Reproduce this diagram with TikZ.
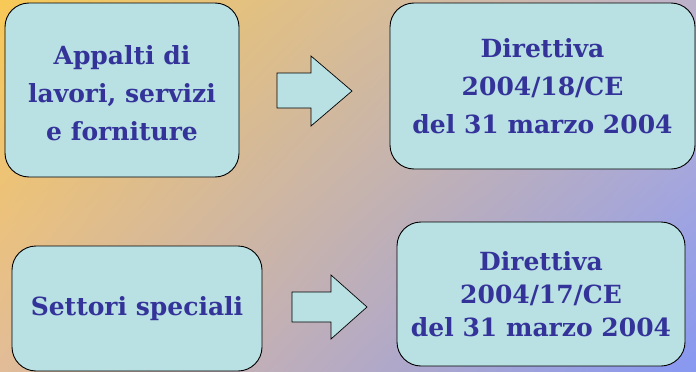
\documentclass[tikz,border=0pt]{standalone}
\usepackage{fontspec}
\setmainfont{DejaVu Serif}
\usepackage{color}
\usetikzlibrary{shadings}
\definecolor{boxfill}{HTML}{B9E0E3}
\definecolor{textblue}{HTML}{333399}
\definecolor{bgul}{HTML}{F8C956}
\definecolor{bgur}{HTML}{BDB2CC}
\definecolor{bgll}{HTML}{E2BC98}
\definecolor{bglr}{HTML}{8798F2}

\begin{document}
\begin{tikzpicture}[x=1pt,y=-1pt,
	box/.style={draw=black,line width=0.9pt,fill=boxfill,rounded corners=24pt,inner sep=0pt,
		text=textblue,align=center,font=\fontsize{25}{38}\selectfont\bfseries},
	boxtight/.style={box,font=\fontsize{25}{33}\selectfont\bfseries},
	blockarrow/.style={draw=black,line width=0.7pt,fill=boxfill,line join=miter}]
	\useasboundingbox (0,0) rectangle (696,372);
	\shade[upper left=bgul,upper right=bgur,lower left=bgll,lower right=bglr]
		(0,0) rectangle (696,372);
	\node[box,minimum width=234pt,minimum height=174pt] (appalti) at (122,90)
		{\raisebox{-5pt}[\height][\depth]{\begin{tabular}{@{}c@{}}Appalti di\\lavori, servizi\\e forniture\end{tabular}}};
	\node[box,minimum width=305pt,minimum height=166pt] (dir18) at (542.5,86)
		{Direttiva\\2004/18/CE\\del 31 marzo 2004};
	\node[box,minimum width=250pt,minimum height=125pt] (settori) at (137,308.5)
		{Settori speciali};
	\node[boxtight,minimum width=288pt,minimum height=144pt] (dir17) at (541,294)
		{Direttiva\\2004/17/CE\\del 31 marzo 2004};
	\draw[blockarrow] (277,73) -- (311,73) -- (311,56) -- (352,91)
		-- (311,126) -- (311,108) -- (277,108) -- cycle;
	\draw[blockarrow] (292,292) -- (331,292) -- (331,275) -- (367,307)
		-- (331,339) -- (331,322) -- (292,322) -- cycle;
\end{tikzpicture}
\end{document}
